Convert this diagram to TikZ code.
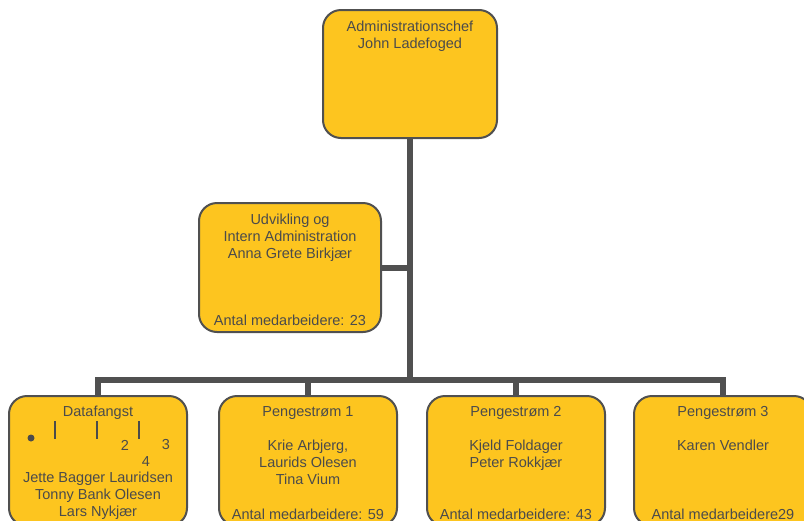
\documentclass[tikz,border=0pt]{standalone}
\usepackage{fontspec}
\setmainfont{Liberation Sans}
\usetikzlibrary{positioning}
\definecolor{boxgold}{RGB}{253,197,31}
\definecolor{edge}{RGB}{80,80,80}
\definecolor{ink}{RGB}{75,75,75}
\tikzset{
  orgbox/.style={draw=edge,line width=2pt,fill=boxgold,rounded corners=18pt,inner sep=0pt},
  unitbox/.style={orgbox,minimum width=178pt,minimum height=130pt},
  txt/.style={text=ink,font=\fontsize{14.5}{17}\selectfont,align=center,inner sep=0pt},
  link/.style={draw=edge,line width=6pt}
}

\begin{document}
\begin{tikzpicture}[x=1pt,y=-1pt]
\useasboundingbox (0,0) rectangle (804,520);
\clip (0,0) rectangle (804,520);
% boxes
\node[orgbox,minimum width=174pt,minimum height=128pt] (chef) at (410,74) {};
\node[orgbox,minimum width=182pt,minimum height=129pt] (udv) at (290,267.5) {};
\node[unitbox] (data) at (98,461) {};
\node[unitbox] (peng1) at (308,461) {};
\node[unitbox] (peng2) at (516,461) {};
\node[unitbox] (peng3) at (723,461) {};
% connectors
\coordinate (split) at (410,380);
\draw[link] (chef) -- (split);
\draw[link] (udv) -- (udv -| split);
\foreach \n in {data,peng1,peng2,peng3}
  \draw[link] (split) -| (\n);
% texts
\node[txt,below=12pt of chef.north] (cheftxt) {Administrationschef\\John Ladefoged};
\node[txt,below=12pt of udv.north] (udvtxt) {Udvikling og\\Intern Administration\\Anna Grete Birkjær};
\node[txt,anchor=base] (udvcount) at ([yshift=8pt]udv.south) {Antal medarbeidere: 23};
\node[txt,below=11pt of data.north] (datatxt) {Datafangst};
\fill[ink] (31,438) circle (3.5pt);
\foreach \x in {55,97,139}
  \draw[ink,line width=2pt] (\x,421) -- (\x,439);
\node[txt] (num2) at (125,445) {2};
\node[txt] (num3) at (166,445) {3};
\node[txt] (num4) at (146,462) {4};
\node[txt,below=77pt of data.north] (datanames) {Jette Bagger Lauridsen\\Tonny Bank Olesen\\Lars Nykjær};
\node[txt,below=11pt of peng1.north] (peng1txt) {Pengestrøm 1\\[17pt]Krie Arbjerg,\\Laurids Olesen\\Tina Vium};
\node[txt,anchor=base] (peng1count) at ([yshift=8pt]peng1.south) {Antal medarbeidere: 59};
\node[txt,below=11pt of peng2.north] (peng2txt) {Pengestrøm 2\\[17pt]Kjeld Foldager\\Peter Rokkjær};
\node[txt,anchor=base] (peng2count) at ([yshift=8pt]peng2.south) {Antal medarbeidere: 43};
\node[txt,below=11pt of peng3.north] (peng3txt) {Pengestrøm 3\\[17pt]Karen Vendler};
\node[txt,anchor=base] (peng3count) at ([yshift=8pt]peng3.south) {Antal medarbeidere29};
\end{tikzpicture}
\end{document}
